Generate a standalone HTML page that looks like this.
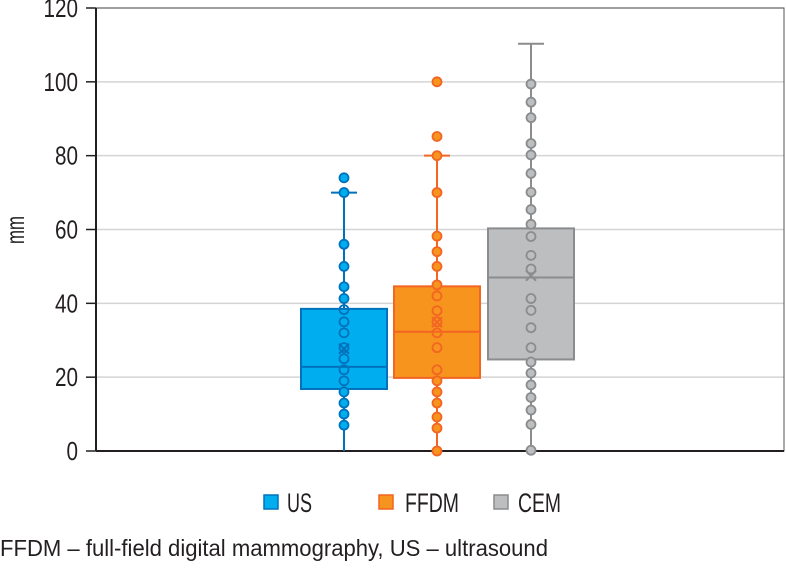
<!DOCTYPE html>
<html><head><meta charset="utf-8"><style>
body{margin:0;background:#fff;width:786px;height:576px;overflow:hidden;}
svg text{font-family:"Liberation Sans",sans-serif;fill:#231f20;}
</style></head><body>
<svg id="chart" width="786" height="576" xmlns="http://www.w3.org/2000/svg"></svg>
<script>
const ticks=[0,20,40,60,80,100,120];
const categories=["US","FFDM","CEM"];
const q1=[16.8,19.8,24.8];
const median=[22.8,32.3,47];
const q3=[38.5,44.6,60.3];
const whiskerLow=[0,0,0];
const whiskerHigh=[70,80,110.3];
const means=[27.7,34.9,47.5];
const usPoints=[74,70,56,50,44.5,41.3,38.3,35,32,28,25,22,19,16,13,10,7];
const ffdmPoints=[100,85.2,80,70,58.2,54,50,45,42,38,35,32,28,22,19,16,13,9.2,6.2,0];
const cemPoints=[99.4,94.5,90.3,83.3,80.2,75.2,70.1,65.4,61.4,58.1,53,49.3,41.3,38.1,33.4,28,24.1,21.1,17.9,14.5,11.1,7.2,0.2];
const points=[usPoints,ffdmPoints,cemPoints];
const fills=["#00aeef","#f7941d","#bcbec0"];
const strokes=["#0072bc","#f26522","#8a8c8e"];

const svg=document.getElementById('chart');
const NS="http://www.w3.org/2000/svg";
const L=96,R=784,T=8,B=451;
const yS=v=>B-(v/120)*(B-T);
const centers=[344,437,531];const bw=86;
function mk(tag,attrs,parent){const e=document.createElementNS(NS,tag);for(const k in attrs)e.setAttribute(k,attrs[k]);(parent||svg).appendChild(e);return e;}

ticks.forEach(t=>{
  if(t>0){const g=mk('line',{x1:L,x2:R,y1:yS(t),y2:yS(t),stroke:'#d4d4d4','stroke-width':1.5});
  
  }
  const tk=mk('line',{x1:86,x2:L,y1:yS(t),y2:yS(t),stroke:'#231f20','stroke-width':1.5});
  
  
  const s=String(t);
  const tx=mk('text',{x:78,y:yS(t)+9,'text-anchor':'end','font-size':26,textLength:11.5*s.length,lengthAdjust:'spacingAndGlyphs'});
  tx.textContent=s;
  
  
});
const frame=mk('rect',{x:L,y:T,width:R-L,height:B-T,fill:'none',stroke:'#555','stroke-width':1});


const ax=mk('line',{x1:L,x2:R,y1:B,y2:B,stroke:'#231f20','stroke-width':2});


const ay=mk('line',{x1:L,x2:L,y1:T,y2:B,stroke:'#231f20','stroke-width':2});


const yt=mk('text',{x:0,y:0,'font-size':26,'text-anchor':'middle',textLength:28,lengthAdjust:'spacingAndGlyphs',transform:'translate(24,230) rotate(-90)'});
yt.textContent='mm';



categories.forEach((c,i)=>{
  const cx=centers[i];
  const g=mk('g',{});
  
  
  mk('line',{x1:cx,x2:cx,y1:yS(whiskerHigh[i]),y2:yS(whiskerLow[i]),stroke:strokes[i],'stroke-width':2},g);
  mk('line',{x1:cx-13,x2:cx+13,y1:yS(whiskerHigh[i]),y2:yS(whiskerHigh[i]),stroke:strokes[i],'stroke-width':2},g);
  mk('rect',{x:cx-bw/2,y:yS(q3[i]),width:bw,height:yS(q1[i])-yS(q3[i]),fill:fills[i],stroke:strokes[i],'stroke-width':2},g);
  mk('line',{x1:cx-bw/2,x2:cx+bw/2,y1:yS(median[i]),y2:yS(median[i]),stroke:strokes[i],'stroke-width':2},g);
  points[i].forEach(v=>{
    const out=v>q3[i]||v<q1[i];
    const p=mk('circle',{cx:cx,cy:yS(v),r:4.5,fill:out?fills[i]:'none',stroke:strokes[i],'stroke-width':1.8},g);
    
    
  });
  const my=yS(means[i]);
  const m=mk('path',{d:`M${cx-5} ${my-5}L${cx+5} ${my+5}M${cx+5} ${my-5}L${cx-5} ${my+5}`,stroke:strokes[i],'stroke-width':2},g);
  
  
});

const lx=[264,379,494],tx=[287,405,518],tw=[25,54,43];
categories.forEach((c,i)=>{
  const g=mk('g',{});
  
  
  mk('rect',{x:lx[i],y:495,width:14,height:14,fill:fills[i],stroke:strokes[i],'stroke-width':1.5},g);
  const t=mk('text',{x:tx[i],y:512,'font-size':27,textLength:tw[i],lengthAdjust:'spacingAndGlyphs'},g);t.textContent=c;
});
const cap=mk('text',{x:0,y:556,'font-size':23,textLength:548,lengthAdjust:'spacingAndGlyphs'});
cap.textContent='FFDM – full-field digital mammography, US – ultrasound';


</script>
</body></html>
